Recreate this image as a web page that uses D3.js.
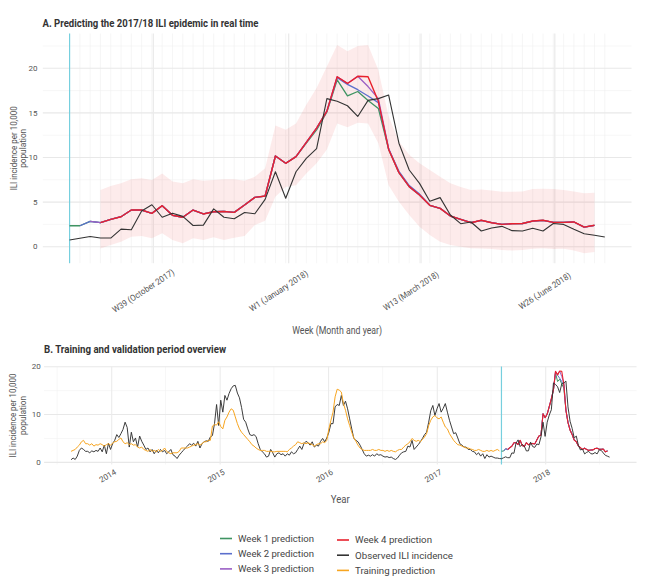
<!DOCTYPE html>
<html><head><meta charset="utf-8">
<script src="https://cdn.jsdelivr.net/npm/d3@7"></script>
<style>body{margin:0;background:#fff}svg{display:block}</style>
</head><body>
<svg id="c" width="653" height="588"></svg>
<script>
// ---------------- DATA ----------------
const startA = "2017-08-05";   // first week of panel A (weekly points)
const startB = "2013-08-17";   // first week of panel B (weekly points)

// Panel A: observed ILI incidence per 10,000 (53 weeks)
const obsA = [0.75,0.95,1.15,0.97,0.97,1.97,1.9,4.0,4.7,3.3,3.76,3.4,2.38,2.42,4.24,3.3,3.13,3.84,3.69,5.3,
  8.4,5.43,8.4,9.9,11.0,16.6,16.3,15.8,14.6,16.4,16.6,17.0,11.6,8.6,7.1,5.1,5.5,3.55,2.58,2.77,
  1.76,2.1,2.28,1.8,1.76,2.06,1.76,2.6,2.5,1.95,1.46,1.28,1.09];

const week1 = [2.35,2.35,2.84,2.69,3.07,3.36,4.11,4.11,3.74,4.6,3.52,3.3,4.11,3.67,3.92,3.95,3.85,4.67,5.53,5.68,
  10.17,9.35,10.1,11.6,13.1,15.1,18.7,16.9,17.4,16.4,15.5,10.9,8.3,6.73,5.8,4.64,4.3,3.44,3.07,2.69,
  2.96,2.69,2.5,2.58,2.6,2.88,2.96,2.73,2.73,2.77,2.2,2.4,null];
const week2 = [null,2.35,2.84,2.69,3.07,3.36,4.11,4.11,3.74,4.6,3.52,3.3,4.11,3.67,3.92,3.95,3.85,4.67,5.53,5.68,
  10.17,9.35,10.1,11.7,13.3,15.2,18.95,18.2,17.6,16.9,16.15,10.95,8.45,6.85,5.9,4.64,4.3,3.44,3.07,2.69,
  2.96,2.69,2.5,2.58,2.6,2.88,2.96,2.73,2.73,2.77,2.2,2.4,null];
const week3 = [null,null,2.84,2.69,3.07,3.36,4.11,4.11,3.74,4.6,3.52,3.3,4.11,3.67,3.92,3.95,3.85,4.67,5.53,5.68,
  10.17,9.35,10.1,11.7,13.3,15.2,19.05,18.3,19.1,17.95,16.6,11.0,8.3,6.73,5.8,4.64,4.3,3.44,3.07,2.69,
  2.96,2.69,2.5,2.58,2.6,2.88,2.96,2.73,2.73,2.77,2.2,2.4,null];
const week4 = [null,null,null,2.69,3.07,3.36,4.11,4.11,3.74,4.6,3.52,3.3,4.11,3.67,3.92,3.95,3.85,4.67,5.53,5.68,
  10.17,9.35,10.1,11.7,13.3,15.2,19.05,18.3,19.1,19.05,16.3,10.9,8.3,6.73,5.8,4.64,4.3,3.44,3.07,2.69,
  2.96,2.69,2.5,2.58,2.6,2.88,2.96,2.73,2.73,2.77,2.2,2.4,null];
const lower4 = [null,null,null,-0.2,0.2,0.56,1.12,1.2,0.94,1.5,0.75,0.38,0.94,0.75,1.05,0.75,1.0,1.2,2.43,2.9,
  5.6,6.7,6.9,8.2,9.35,10.9,13.8,13.4,13.9,13.8,11.6,6.9,5.05,3.55,2.24,1.3,0.56,0.19,0.0,-0.18,
  -0.2,-0.25,-0.37,-0.44,-0.37,-0.22,-0.18,-0.25,-0.22,-0.44,-0.74,-0.6,null];
const upper4 = [null,null,null,6.36,6.8,7.1,7.55,7.67,7.48,8.2,7.3,7.1,7.55,7.4,7.48,7.55,7.55,7.4,7.85,8.8,
  13.6,13.1,13.8,15.9,17.8,20.2,22.6,21.9,22.5,22.6,19.8,14.6,11.8,10.3,9.35,8.6,7.85,7.1,6.7,6.36,
  6.4,6.3,6.17,6.17,6.2,6.47,6.5,6.47,6.36,6.2,6.0,6.05,null];

// Panel B: observed incidence during training period (207 weeks, before panel A)
const obsHist = [0.55,0.9,0.6,1.3,2.5,3.0,2.7,2.3,2.3,2.0,2.4,2.2,2.5,2.3,3.0,2.2,3.6,1.8,4.0,2.7,
  3.9,4.6,5.8,5.2,6.0,6.9,8.4,7.3,3.2,6.3,4.3,5.1,3.2,5.5,4.4,3.6,2.7,3.0,2.2,2.7,
  1.8,2.5,2.0,2.7,2.2,2.5,1.8,2.2,2.7,1.6,1.3,0.8,1.5,2.0,2.5,3.0,3.4,3.9,3.6,4.0,
  3.4,4.4,3.0,3.9,4.3,4.5,4.4,5.3,5.6,8.1,12.1,7.7,13.0,10.5,14.0,13.0,14.4,15.4,16.0,16.1,
  14.5,13.5,11.5,9.0,8.4,7.0,5.8,5.6,5.8,5.4,3.9,2.7,2.2,1.8,1.1,1.3,2.7,2.0,1.1,1.8,
  2.0,1.6,1.8,1.3,1.8,1.5,2.2,1.8,2.0,2.7,3.4,2.7,3.9,4.4,4.1,3.6,4.3,3.2,3.6,3.4,
  4.4,5.0,4.3,5.1,6.3,8.1,8.1,11.6,12.1,11.9,14.0,11.9,12.8,11.2,9.1,7.0,5.0,4.6,4.3,3.6,
  2.7,1.8,1.3,1.5,1.3,1.6,1.3,1.8,1.5,1.6,1.3,1.1,1.2,1.0,1.1,0.8,0.6,0.9,1.5,2.0,
  2.2,2.3,3.4,3.2,4.6,2.7,3.2,3.7,4.3,5.0,5.8,6.3,8.4,10.8,11.9,9.8,11.2,12.3,10.5,11.3,
  12.3,10.5,8.8,7.4,6.0,6.2,5.1,3.9,3.6,3.2,3.2,2.7,2.7,2.3,2.2,1.6,2.0,1.3,1.8,0.8,
  1.6,1.1,1.3,1.1,0.9,0.9,0.8];
// Panel B: training prediction (207 weeks)
const trainB = [2.3,2.5,2.7,3.2,3.6,4.3,4.6,3.9,3.9,3.6,3.9,3.4,3.7,3.6,3.9,3.7,3.4,3.7,3.9,3.6,
  4.0,4.3,4.4,4.8,5.1,4.3,3.9,4.1,3.7,3.9,3.6,3.7,3.2,3.0,3.2,2.7,2.5,2.3,2.7,2.3,
  2.5,2.2,2.7,2.3,2.5,3.0,2.3,2.0,1.8,2.0,2.0,2.0,2.3,3.0,3.0,3.0,3.0,3.2,3.4,3.6,
  3.7,3.9,3.6,3.9,4.3,4.3,4.6,4.6,7.6,7.9,7.8,8.5,7.5,7.0,8.8,9.5,10.5,11.2,10.9,9.5,
  8.1,7.0,6.3,5.8,5.3,4.8,4.3,3.7,3.4,3.0,2.7,2.5,2.5,2.5,2.3,2.3,2.3,2.2,2.2,2.3,
  2.3,2.3,2.3,2.3,2.2,2.7,3.0,3.4,3.7,4.3,4.1,3.9,4.1,3.9,4.1,3.9,3.7,3.4,3.7,3.9,
  3.9,4.3,4.1,4.6,7.0,8.8,10.5,13.7,15.3,15.1,14.7,12.3,10.9,9.1,7.7,6.3,5.1,4.4,3.6,3.0,
  2.7,2.5,2.5,2.5,2.5,2.7,2.5,2.5,2.7,2.5,2.5,2.3,2.5,2.3,2.5,2.3,2.2,2.5,2.7,2.7,
  3.2,3.6,3.9,4.3,5.0,4.6,4.4,4.6,4.3,4.8,5.3,6.0,7.7,8.8,9.5,9.8,9.3,9.1,9.5,8.4,
  7.4,7.0,6.0,5.3,4.6,4.1,3.7,3.6,3.4,3.2,3.0,3.0,2.8,2.7,2.5,2.5,2.7,2.5,2.3,2.3,
  2.5,2.3,2.5,2.3,2.5,2.7,2.4];

const tickDatesA = ["2017-10-01","2018-01-01","2018-04-01","2018-07-01"];
const tickLabelsA = ["W39 (October 2017)","W1 (January 2018)","W13 (March 2018)","W26 (June 2018)"];
const yTicksA = [0,5,10,15,20];
const yMinorA = [2.5,7.5,12.5,17.5,22.5];
const yearTicksB = ["2014-01-01","2015-01-01","2016-01-01","2017-01-01","2018-01-01"];
const yearLabelsB = ["2014","2015","2016","2017","2018"];
const yearMinorB = ["2013-07-01","2014-07-01","2015-07-01","2016-07-01","2017-07-01","2018-07-01"];
const yTicksB = [0,10,20];
const yMinorB = [5,15];
const legendLabels = ["Week 1 prediction","Week 2 prediction","Week 3 prediction","Week 4 prediction","Observed ILI incidence","Training prediction"];

// ---------------- STYLE ----------------
const C = {w1:"#3f9462", w2:"#5b6fcc", w3:"#9a5fc4", w4:"#e8212d", obs:"#333333", train:"#f7a520", cyan:"#76cfde"};
const FONT = "Roboto, 'Liberation Sans', sans-serif";
const svg = d3.select("#c");
const parse = d3.utcParse("%Y-%m-%d");
const dA0 = parse(startA), dB0 = parse(startB);
const datesA = obsA.map((_, i) => d3.utcDay.offset(dA0, 7*i));
const obsB = obsHist.concat(obsA);
const datesB = obsB.map((_, i) => d3.utcDay.offset(dB0, 7*i));
const offB = obsHist.length;

function txt(g, x, y, s, o) {
  const t = g.append("text").attr("x", x).attr("y", y).text(s)
    .attr("font-family", FONT).attr("font-size", o.size || 8).attr("fill", o.fill || "#4d4d4d");
  if (o.weight) t.attr("font-weight", o.weight);
  if (o.anchor) t.attr("text-anchor", o.anchor);
  if (o.len) t.attr("textLength", o.len).attr("lengthAdjust", "spacingAndGlyphs");
  if (o.dy) t.attr("dy", o.dy);
  if (o.transform) t.attr("transform", o.transform);
  return t;
}

// ---------------- PANEL A ----------------
const xA = d3.scaleUtc()
  .domain([d3.utcHour.offset(datesA[0], -18.2*24), d3.utcHour.offset(datesA[datesA.length-1], 18.2*24)])
  .range([42.8, 631.5]);
const yA = d3.scaleLinear().domain([-1.85, 23.9]).range([263.2, 33.5]);
const gA = svg.append("g");
const [ax0, ax1] = xA.range(), [ay1, ay0] = yA.range();

gA.selectAll(".hmin").data(yMinorA).join("line")
  .attr("x1", ax0).attr("x2", ax1).attr("y1", d => yA(d)).attr("y2", d => yA(d))
  .attr("stroke", "#f2f2f2").attr("stroke-width", 0.6);
gA.selectAll(".vmin").data(datesA).join("line")
  .attr("x1", d => xA(d)).attr("x2", d => xA(d)).attr("y1", ay0).attr("y2", ay1)
  .attr("stroke", "#f0f0f0").attr("stroke-width", 0.6);
gA.selectAll(".hmaj").data(yTicksA).join("line")
  .attr("x1", ax0).attr("x2", ax1).attr("y1", d => yA(d)).attr("y2", d => yA(d))
  .attr("stroke", "#e8e8e8").attr("stroke-width", 1.1);
gA.selectAll(".vmaj").data(tickDatesA.map(parse)).join("line")
  .attr("x1", d => xA(d)).attr("x2", d => xA(d)).attr("y1", ay0).attr("y2", ay1)
  .attr("stroke", "#ebebeb").attr("stroke-width", 1.3);

// ribbon
const ribbon = datesA.map((d, i) => ({d, lo: lower4[i], hi: upper4[i]}));
gA.append("path").datum(ribbon)
  .attr("d", d3.area().defined(p => p.lo != null).x(p => xA(p.d)).y0(p => yA(p.lo)).y1(p => yA(p.hi)))
  .attr("fill", "#ee3b3b").attr("fill-opacity", 0.1);

// cyan line
gA.append("line").attr("x1", xA(datesA[0])).attr("x2", xA(datesA[0])).attr("y1", ay0).attr("y2", ay1)
  .attr("stroke", C.cyan).attr("stroke-width", 1.2);

function drawLine(g, xs, ys, dates, vals, color, w) {
  const pts = dates.map((d, i) => ({d, v: vals[i]}));
  g.append("path").datum(pts)
    .attr("d", d3.line().defined(p => p.v != null).x(p => xs(p.d)).y(p => ys(p.v)))
    .attr("fill", "none").attr("stroke", color).attr("stroke-width", w)
    .attr("stroke-linejoin", "round");
}
drawLine(gA, xA, yA, datesA, week1, C.w1, 1.3);
drawLine(gA, xA, yA, datesA, week2, C.w2, 1.3);
drawLine(gA, xA, yA, datesA, week3, C.w3, 1.3);
drawLine(gA, xA, yA, datesA, week4, C.w4, 1.4);
drawLine(gA, xA, yA, datesA, obsA, C.obs, 1.1);

// axes text A
yTicksA.forEach(v => txt(gA, 37.5, yA(v), String(v), {size: 8, anchor: "end", dy: "0.34em", fill: "#555"}));
tickDatesA.forEach((d, i) => {
  const x = xA(parse(d)) - 10, y = 291;
  txt(gA, x, y, tickLabelsA[i], {size: 8.6, anchor: "middle", dy: "0.34em", fill: "#555",
    len: tickLabelsA[i].length * 4.0, transform: `rotate(-33,${x},${y})`});
});
txt(gA, 42.5, 26.5, "A. Predicting the 2017/18 ILI epidemic in real time", {size: 10.5, weight: 700, fill: "#333", len: 216});
const cyA = (ay0 + ay1) / 2;
txt(gA, 14, cyA, "ILI incidence per 10,000", {size: 8.4, anchor: "middle", dy: "0.35em", fill: "#555", len: 84, transform: `rotate(-90,14,${cyA})`});
txt(gA, 23, cyA, "population", {size: 8.4, anchor: "middle", dy: "0.35em", fill: "#555", len: 39, transform: `rotate(-90,23,${cyA})`});
txt(gA, (ax0 + ax1) / 2, 334, "Week (Month and year)", {size: 10.5, anchor: "middle", fill: "#555", len: 90});

// ---------------- PANEL B ----------------
const xB = d3.scaleUtc()
  .domain([d3.utcHour.offset(datesB[0], -90.65*24), d3.utcHour.offset(datesB[datesB.length-1], 90.65*24)])
  .range([44.1, 636.5]);
const yB = d3.scaleLinear().domain([-0.45, 20.05]).range([464.5, 366.5]);
const gB = svg.append("g");
const [bx0, bx1] = xB.range(), [by1, by0] = yB.range();

gB.selectAll(".hmin").data(yMinorB).join("line")
  .attr("x1", bx0).attr("x2", bx1).attr("y1", d => yB(d)).attr("y2", d => yB(d))
  .attr("stroke", "#f2f2f2").attr("stroke-width", 0.6);
gB.selectAll(".vmin").data(yearMinorB.map(parse)).join("line")
  .attr("x1", d => xB(d)).attr("x2", d => xB(d)).attr("y1", by0).attr("y2", by1)
  .attr("stroke", "#f2f2f2").attr("stroke-width", 0.6);
gB.selectAll(".hmaj").data(yTicksB).join("line")
  .attr("x1", bx0).attr("x2", bx1).attr("y1", d => yB(d)).attr("y2", d => yB(d))
  .attr("stroke", "#e8e8e8").attr("stroke-width", 1.1);
gB.selectAll(".vmaj").data(yearTicksB.map(parse)).join("line")
  .attr("x1", d => xB(d)).attr("x2", d => xB(d)).attr("y1", by0).attr("y2", by1)
  .attr("stroke", "#ebebeb").attr("stroke-width", 1.1);

gB.append("line").attr("x1", xB(datesA[0])).attr("x2", xB(datesA[0])).attr("y1", by0).attr("y2", by1)
  .attr("stroke", C.cyan).attr("stroke-width", 1.2);

const datesPredB = datesB.slice(offB);
drawLine(gB, xB, yB, datesPredB, week1, C.w1, 1);
drawLine(gB, xB, yB, datesPredB, week2, C.w2, 1);
drawLine(gB, xB, yB, datesPredB, week3, C.w3, 1);
drawLine(gB, xB, yB, datesPredB, week4, C.w4, 1.1);
drawLine(gB, xB, yB, datesB, obsB, C.obs, 0.95);
drawLine(gB, xB, yB, datesB.slice(0, offB), trainB, C.train, 1);

yTicksB.forEach(v => txt(gB, 40.7, yB(v), String(v), {size: 8, anchor: "end", dy: "0.34em", fill: "#555"}));
yearTicksB.forEach((d, i) => {
  const x = xB(parse(d)) - 4, y = 476;
  txt(gB, x, y, yearLabelsB[i], {size: 8, anchor: "middle", dy: "0.34em", fill: "#555", transform: `rotate(-30,${x},${y})`});
});
txt(gB, 44, 353, "B. Training and validation period overview", {size: 10.5, weight: 700, fill: "#333", len: 182});
const cyB = (by0 + by1) / 2;
txt(gB, 13.5, cyB, "ILI incidence per 10,000", {size: 8.4, anchor: "middle", dy: "0.35em", fill: "#555", len: 84, transform: `rotate(-90,13.5,${cyB})`});
txt(gB, 22.7, cyB, "population", {size: 8.4, anchor: "middle", dy: "0.35em", fill: "#555", len: 39, transform: `rotate(-90,22.7,${cyB})`});
txt(gB, (bx0 + bx1) / 2, 503, "Year", {size: 10.5, anchor: "middle", fill: "#555", len: 19});

// ---------------- LEGEND ----------------
const legCols = [C.w1, C.w2, C.w3, C.w4, C.obs, C.train];
const legLens = [76, 76, 76, 77, 98, 80];
const gL = svg.append("g");
legendLabels.forEach((lab, i) => {
  const col = Math.floor(i / 3), row = i % 3;
  const kx = col === 0 ? 220 : 337, tx = col === 0 ? 238 : 355;
  const y = (col === 0 ? 538.5 : 540) + row * 15.2;
  gL.append("line").attr("x1", kx).attr("x2", kx + 12).attr("y1", y).attr("y2", y)
    .attr("stroke", legCols[i]).attr("stroke-width", 1.6);
  txt(gL, tx, y, lab, {size: 9.5, dy: "0.35em", fill: "#444", len: legLens[i]});
});
</script>
</body></html>
